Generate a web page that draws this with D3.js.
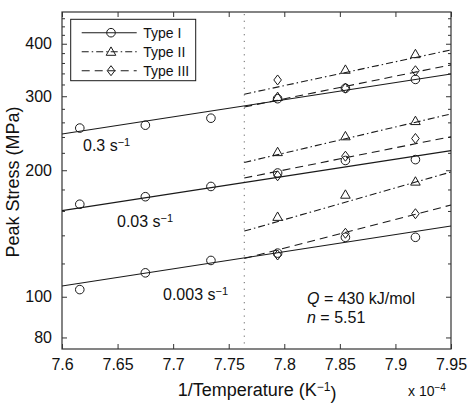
<!DOCTYPE html>
<html><head><meta charset="utf-8">
<script src="https://cdn.jsdelivr.net/npm/d3@7"></script>
<style>body{margin:0;background:#fff}svg{display:block}text{font-family:"Liberation Sans",Arial,Helvetica,sans-serif;fill:#111}</style>
</head><body><svg id="c" width="469" height="404"></svg>
<script>
// ---- data ----
const invT = [7.616, 7.675, 7.734, 7.794, 7.855, 7.918];      // 1/T (x 10^-4 K^-1)
const invT23 = invT.slice(3);
const rates = ["0.3", "0.03", "0.003"];
const typeI_03  = [252, 256, 266, 296, 313.5, 329];
const typeI_003a = [166, 173, 183, 197, 211, 212];   // 0.03 s^-1
const typeI_0003 = [104, 114, 122, 127, 138.5, 138.5];
const typeII_03  = [299, 347, 378];
const typeII_003a = [221, 241, 262];
const typeII_0003 = [155, 175, 188];
const typeIII_03  = [328, 313.5, 345];
const typeIII_003a = [194, 216, 238];
const typeIII_0003 = [125.7, 141.6, 157.6];
const fitXI = [7.6, 7.95];
const fitX23 = [7.764, 7.95];
const fitI   = [[244, 339], [160.3, 222.7], [106.1, 147.4]];
const fitII  = [[303.4, 386.8], [208.7, 272.3], [143.3, 198.1]];
const fitIII = [[282.9, 356.3], [191.7, 240.4], [123.3, 165.3]];
const xTicks = [7.6, 7.65, 7.7, 7.75, 7.8, 7.85, 7.9, 7.95];
const yTicks = [80, 100, 200, 300, 400];
const yMinor = [120, 140, 160, 180, 220, 240, 260, 280, 320, 340, 360, 380, 420, 440, 460];
const dividerX = 7.764;

// ---- layout ----
const svg = d3.select("#c");
const L = 62, R = 451, T = 12, B = 349;
const x = d3.scaleLinear().domain([7.6, 7.95]).range([L, R]);
const y = d3.scaleLog().domain([75.1, 476]).range([B, T]);
const ink = "#1a1a1a";

// frame
svg.append("rect").attr("x", L).attr("y", T).attr("width", R - L).attr("height", B - T)
  .attr("fill", "none").attr("stroke", "#333").attr("stroke-width", 1.2);

// axes via d3 axis
const gB = svg.append("g").attr("transform", `translate(0,${B})`)
  .call(d3.axisBottom(x).tickValues(xTicks).tickSizeInner(-5).tickSizeOuter(0).tickPadding(10).tickFormat(d3.format("")));
const gT = svg.append("g").attr("transform", `translate(0,${T})`)
  .call(d3.axisTop(x).tickValues(xTicks).tickSizeInner(-5).tickSizeOuter(0).tickFormat(""));
const gL = svg.append("g").attr("transform", `translate(${L},0)`)
  .call(d3.axisLeft(y).tickValues(yTicks).tickSizeInner(-5).tickSizeOuter(0).tickPadding(10).tickFormat(d3.format("d")));
const gLm = svg.append("g").attr("transform", `translate(${L},0)`)
  .call(d3.axisLeft(y).tickValues(yMinor).tickSizeInner(-3).tickSizeOuter(0).tickFormat(""));
const gR = svg.append("g").attr("transform", `translate(${R},0)`)
  .call(d3.axisRight(y).tickValues(yTicks).tickSizeInner(-5).tickSizeOuter(0).tickFormat(""));
const gRm = svg.append("g").attr("transform", `translate(${R},0)`)
  .call(d3.axisRight(y).tickValues(yMinor).tickSizeInner(-3).tickSizeOuter(0).tickFormat(""));
[gB, gT, gL, gLm, gR, gRm].forEach(g => {
  g.select(".domain").remove();
  g.selectAll(".tick line").attr("stroke", "#333");
  g.selectAll("text").attr("font-size", 16).attr("fill", ink)
    .style("font-family", '"Liberation Sans",Arial,sans-serif');
});

// divider dotted line
svg.append("line").attr("x1", x(dividerX)).attr("x2", x(dividerX)).attr("y1", T + 2).attr("y2", B)
  .attr("stroke", "#666").attr("stroke-width", 1).attr("stroke-dasharray", "1.2,5.5");

// fit lines
const line = d3.line().x(d => x(d[0])).y(d => y(d[1]));
const dashII = "7,3,1.5,3", dashIII = "8,5";
fitI.forEach(v => svg.append("path").attr("d", line(fitXI.map((xx, i) => [xx, v[i]])))
  .attr("fill", "none").attr("stroke", ink).attr("stroke-width", 1.1));
fitII.forEach(v => svg.append("path").attr("d", line(fitX23.map((xx, i) => [xx, v[i]])))
  .attr("fill", "none").attr("stroke", ink).attr("stroke-width", 1.1).attr("stroke-dasharray", dashII));
fitIII.forEach(v => svg.append("path").attr("d", line(fitX23.map((xx, i) => [xx, v[i]])))
  .attr("fill", "none").attr("stroke", ink).attr("stroke-width", 1.1).attr("stroke-dasharray", dashIII));

// markers
function circ(g, cx, cy) { g.append("circle").attr("cx", cx).attr("cy", cy).attr("r", 4.3)
  .attr("fill", "none").attr("stroke", ink).attr("stroke-width", 1); }
function tri(g, cx, cy) { g.append("path").attr("d", `M${cx},${cy - 4.8}L${cx + 4.8},${cy + 3.6}L${cx - 4.8},${cy + 3.6}Z`)
  .attr("fill", "none").attr("stroke", ink).attr("stroke-width", 1); }
function dia(g, cx, cy) { g.append("path").attr("d", `M${cx},${cy - 5}L${cx + 3.8},${cy}L${cx},${cy + 5}L${cx - 3.8},${cy}Z`)
  .attr("fill", "none").attr("stroke", ink).attr("stroke-width", 1); }

const mg = svg.append("g");
[typeI_03, typeI_003a, typeI_0003].forEach(s => s.forEach((v, i) => circ(mg, x(invT[i]), y(v))));
[typeII_03, typeII_003a, typeII_0003].forEach(s => s.forEach((v, i) => tri(mg, x(invT23[i]), y(v))));
[typeIII_03, typeIII_003a, typeIII_0003].forEach(s => s.forEach((v, i) => dia(mg, x(invT23[i]), y(v))));

// rate labels
function rateLabel(txt, px, py) {
  const t = svg.append("text").attr("x", px).attr("y", py).attr("font-size", 16);
  t.append("tspan").text(txt + " s");
  t.append("tspan").attr("dy", "-0.45em").attr("font-size", 11).text("\u22121");
}
rateLabel(rates[0], 83, 151);
rateLabel(rates[1], 117, 227);
rateLabel(rates[2], 163, 300);

// Q / n annotation
const q = svg.append("text").attr("x", 307).attr("y", 304).attr("font-size", 16);
q.append("tspan").attr("font-style", "italic").text("Q");
q.append("tspan").text(" = 430 kJ/mol");
const n = svg.append("text").attr("x", 307).attr("y", 323).attr("font-size", 16);
n.append("tspan").attr("font-style", "italic").text("n");
n.append("tspan").text(" = 5.51");

// axis titles
const xl = svg.append("text").attr("x", 257).attr("y", 396).attr("text-anchor", "middle").attr("font-size", 18);
xl.append("tspan").text("1/Temperature (K");
xl.append("tspan").attr("dy", "-0.45em").attr("font-size", 12).text("\u22121");
xl.append("tspan").attr("dy", "0.45em").text(")");
svg.append("text").attr("transform", "translate(19,182) rotate(-90)").attr("text-anchor", "middle")
  .attr("font-size", 18).text("Peak Stress (MPa)");
const ex = svg.append("text").attr("x", 408).attr("y", 396).attr("font-size", 14);
ex.append("tspan").text("x 10");
ex.append("tspan").attr("dy", "-0.5em").attr("font-size", 10).text("\u22124");

// legend
const lg = svg.append("g");
lg.append("rect").attr("x", 70.7).attr("y", 19.3).attr("width", 125).attr("height", 61.4)
  .attr("fill", "#fff").attr("stroke", ink).attr("stroke-width", 1);
const legendItems = [
  {name: "Type I", dash: null, mark: circ},
  {name: "Type II", dash: dashII, mark: tri},
  {name: "Type III", dash: dashIII, mark: dia}
];
legendItems.forEach((d, i) => {
  const ly = 32.7 + i * 19;
  const l = lg.append("line").attr("x1", 81.7).attr("x2", 136.7).attr("y1", ly).attr("y2", ly)
    .attr("stroke", ink).attr("stroke-width", 1.1);
  if (d.dash) l.attr("stroke-dasharray", d.dash);
  d.mark(lg, 111, ly);
  lg.append("text").attr("x", 143.3).attr("y", ly + 5).attr("font-size", 14).text(d.name);
});
</script></body></html>
